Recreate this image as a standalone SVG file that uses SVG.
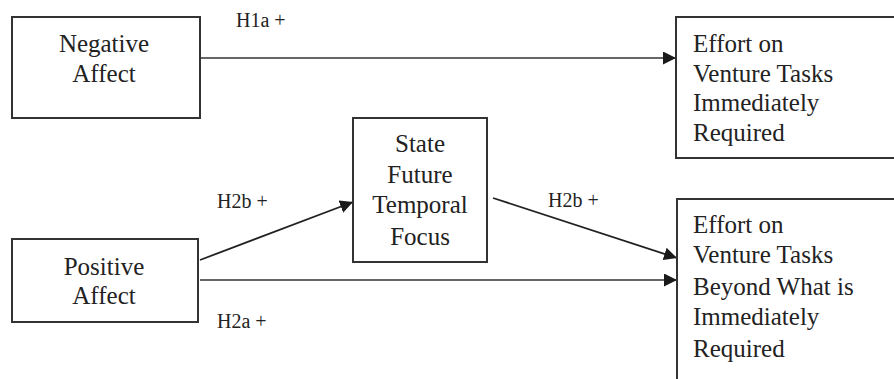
<svg xmlns="http://www.w3.org/2000/svg" width="894" height="379" viewBox="0 0 894 379">
<defs>
<marker id="arr" viewBox="0 0 10 10" refX="10" refY="5" markerWidth="13" markerHeight="13" markerUnits="userSpaceOnUse" orient="auto">
<path d="M0,0 L10,5 L0,10 z" fill="#1a1a1a"/>
</marker>
<style>
.box{fill:#fff;stroke:#333;stroke-width:2}
.t{font-family:"Liberation Serif","Times New Roman",serif;font-size:25px;fill:#222}
.c{text-anchor:middle}
.lbl{font-family:"Liberation Serif","Times New Roman",serif;font-size:20px;fill:#222}
.h{stroke:#666;stroke-width:2;fill:none}
.d{stroke:#222;stroke-width:1.8;fill:none}
</style>
</defs>
<rect width="894" height="379" fill="#fff"/>
<g id="connectors">
<line class="h" x1="200" y1="58" x2="676" y2="58" marker-end="url(#arr)"/>
<line class="d" x1="200" y1="260" x2="353" y2="202" marker-end="url(#arr)"/>
<line class="d" x1="493" y1="198" x2="677" y2="258" marker-end="url(#arr)"/>
<line class="h" x1="200" y1="280" x2="677" y2="280" marker-end="url(#arr)"/>
<text class="lbl" x="236" y="27">H1a +</text>
<text class="lbl" x="217" y="208">H2b +</text>
<text class="lbl" x="548" y="207">H2b +</text>
<text class="lbl" x="217" y="328">H2a +</text>
</g>
<g id="negative-affect">
<rect class="box" x="12" y="17" width="188" height="101"/>
<text class="t c" x="104" y="52">Negative</text>
<text class="t c" x="104" y="82">Affect</text>
</g>
<g id="positive-affect">
<rect class="box" x="12" y="239" width="186" height="83"/>
<text class="t c" x="104" y="275">Positive</text>
<text class="t c" x="104" y="304">Affect</text>
</g>
<g id="state-future-temporal-focus">
<rect class="box" x="353" y="118" width="134" height="144"/>
<text class="t c" x="420" y="152">State</text>
<text class="t c" x="420" y="183">Future</text>
<text class="t c" x="420" y="213">Temporal</text>
<text class="t c" x="420" y="245">Focus</text>
</g>
<g id="effort-immediate">
<rect class="box" x="676" y="17" width="230" height="141"/>
<text class="t" x="693" y="52">Effort on</text>
<text class="t" x="693" y="82">Venture Tasks</text>
<text class="t" x="693" y="111">Immediately</text>
<text class="t" x="693" y="141">Required</text>
</g>
<g id="effort-beyond">
<rect class="box" x="677" y="199" width="230" height="200"/>
<text class="t" x="693" y="233">Effort on</text>
<text class="t" x="693" y="263">Venture Tasks</text>
<text class="t" x="693" y="295">Beyond What is</text>
<text class="t" x="693" y="325">Immediately</text>
<text class="t" x="693" y="357">Required</text>
</g>
</svg>
